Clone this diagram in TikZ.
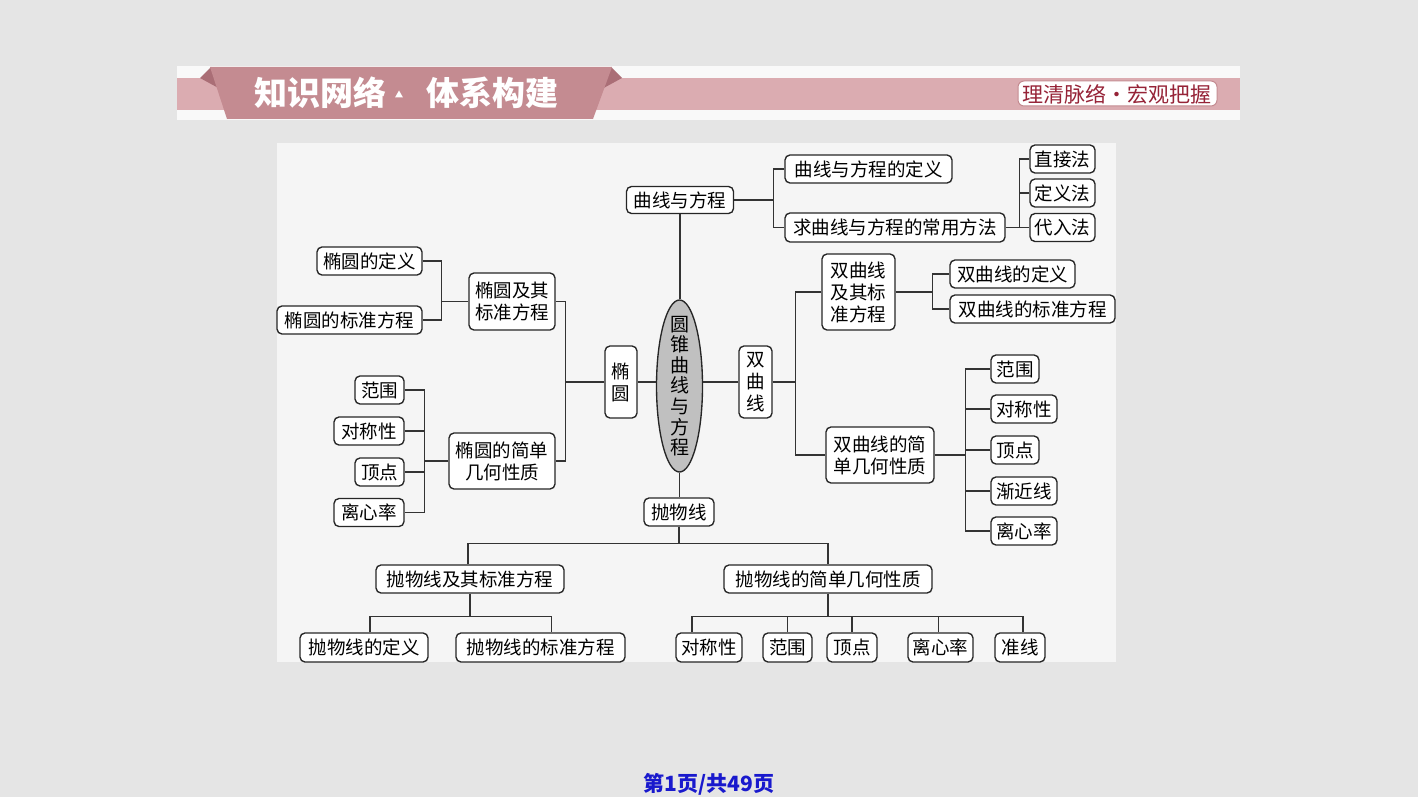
\documentclass[tikz,border=0pt]{standalone}
\usepackage{fontspec}
\newfontfamily\cjk{Noto Sans CJK SC}
\usetikzlibrary{shapes.geometric,calc}
\definecolor{pagebg}{RGB}{229,229,229}
\definecolor{panelbg}{RGB}{245,245,245}
\definecolor{bandwhite}{RGB}{249,249,249}
\definecolor{pinkband}{RGB}{219,172,177}
\definecolor{ribbon}{RGB}{196,139,145}
\definecolor{ribbonfold}{RGB}{170,110,118}
\definecolor{tagred}{RGB}{150,35,55}
\definecolor{ovalgray}{RGB}{192,192,192}
\definecolor{footblue}{RGB}{25,25,205}
\tikzset{
  bx/.style={draw=black!85, line width=1.35pt, rounded corners=5pt, fill=white,
    font=\cjk\fontsize{18.5}{22}\selectfont, inner sep=0pt, align=center},
  ln/.style={draw=black!80, line width=1.35pt},
}
\begin{document}
\begin{tikzpicture}[x=1pt,y=-1pt]
\useasboundingbox (0,0) rectangle (1418,797);
\fill[pagebg] (0,0) rectangle (1418,797);
% header
\fill[bandwhite] (177,66) rectangle (1240,120);
\fill[pinkband] (177,78) rectangle (1240,110);
\fill[ribbonfold] (200,78) -- (211,67) -- (222,90) -- cycle;
\fill[ribbonfold] (622,78) -- (611,67) -- (600,90) -- cycle;
\fill[ribbon] (210,67) -- (612,67) -- (593,119) -- (227,119) -- cycle;
\node[font=\cjk\bfseries\fontsize{33}{36}\selectfont, text=white, inner sep=0pt] (t1h) at (320,93) {知识网络};
\fill[white] (399,90.5) -- (403,97.5) -- (395,97.5) -- cycle;
\node[font=\cjk\bfseries\fontsize{33}{36}\selectfont, text=white, inner sep=0pt] (t2h) at (492,93) {体系构建};
\draw[draw=ribbon, line width=1pt, fill=white, rounded corners=6pt] (1018,81) rectangle (1217,106);
\node[font=\cjk\fontsize{21}{23}\selectfont, text=tagred, inner sep=0pt] (tag) at (1117,94) {理清脉络·宏观把握};
% panel
\fill[panelbg] (277,143) rectangle (1116,662);
% central ellipse
\node[draw=black!85, line width=1.35pt, fill=ovalgray, ellipse, minimum width=46pt, minimum height=172pt,
  inner xsep=0pt, inner ysep=-11pt, align=center, font=\cjk\fontsize{19}{20.6}\selectfont] (c) at (679.5,386)
  {圆\\锥\\曲\\线\\与\\方\\程};
% top branch
\node[bx, minimum width=107pt, minimum height=27pt] (qx) at (680,200) {曲线与方程};
\node[bx, minimum width=167pt, minimum height=28pt] (qd) at (868.5,169) {曲线与方程的定义};
\node[bx, minimum width=220pt, minimum height=29pt] (qf) at (895,227.5) {求曲线与方程的常用方法};
\node[bx, minimum width=65pt, minimum height=28pt] (m1) at (1062.5,159) {直接法};
\node[bx, minimum width=65pt, minimum height=28pt] (m2) at (1062.5,193) {定义法};
\node[bx, minimum width=65pt, minimum height=28pt] (m3) at (1062.5,227.5) {代入法};
% ellipse branch
\node[bx, minimum width=32pt, minimum height=72pt] (ty) at (621,382) {椭\\圆};
\node[bx, minimum width=86pt, minimum height=57pt] (ta) at (512,301.5) {椭圆及其\\标准方程};
\node[bx, minimum width=105pt, minimum height=28pt] (td) at (369.5,261) {椭圆的定义};
\node[bx, minimum width=145pt, minimum height=28pt] (tb) at (349.5,320) {椭圆的标准方程};
\node[bx, minimum width=106pt, minimum height=56pt] (tg) at (502,461) {椭圆的简单\\几何性质};
\node[bx, minimum width=49pt, minimum height=28pt] (ta1) at (379.5,390) {范围};
\node[bx, minimum width=70pt, minimum height=28pt] (ta2) at (369,431) {对称性};
\node[bx, minimum width=49pt, minimum height=28pt] (ta3) at (379.5,472) {顶点};
\node[bx, minimum width=70pt, minimum height=28pt] (ta4) at (369,512.5) {离心率};
% hyperbola branch
\node[bx, minimum width=33pt, minimum height=72pt] (sq) at (755.5,382) {双\\曲\\线};
\node[bx, minimum width=73pt, minimum height=76pt] (sa) at (858.5,292) {双曲线\\及其标\\准方程};
\node[bx, minimum width=125pt, minimum height=28pt] (sd) at (1012.5,274) {双曲线的定义};
\node[bx, minimum width=165pt, minimum height=28pt] (sb) at (1032.5,309) {双曲线的标准方程};
\node[bx, minimum width=108pt, minimum height=56pt] (sg) at (880,455) {双曲线的简\\单几何性质};
\node[bx, minimum width=48pt, minimum height=28pt] (s1) at (1015,369) {范围};
\node[bx, minimum width=66pt, minimum height=28pt] (s2) at (1024,409) {对称性};
\node[bx, minimum width=48pt, minimum height=28pt] (s3) at (1015,450) {顶点};
\node[bx, minimum width=66pt, minimum height=28pt] (s4) at (1024,491) {渐近线};
\node[bx, minimum width=66pt, minimum height=28pt] (s5) at (1024,531) {离心率};
% parabola branch
\node[bx, minimum width=70pt, minimum height=28pt] (pw) at (679,512) {抛物线};
\node[bx, minimum width=188pt, minimum height=28pt] (pa) at (470,579) {抛物线及其标准方程};
\node[bx, minimum width=208pt, minimum height=28pt] (pg) at (828,579) {抛物线的简单几何性质};
\node[bx, minimum width=128pt, minimum height=29pt] (pa1) at (364,647.5) {抛物线的定义};
\node[bx, minimum width=169pt, minimum height=29pt] (pa2) at (540.5,647.5) {抛物线的标准方程};
\node[bx, minimum width=66pt, minimum height=29pt] (pg1) at (709,647.5) {对称性};
\node[bx, minimum width=49pt, minimum height=29pt] (pg2) at (787.5,647.5) {范围};
\node[bx, minimum width=50pt, minimum height=29pt] (pg3) at (852,647.5) {顶点};
\node[bx, minimum width=65pt, minimum height=29pt] (pg4) at (940.5,647.5) {离心率};
\node[bx, minimum width=50pt, minimum height=29pt] (pg5) at (1020,647.5) {准线};
% connectors
\draw[ln] (qx.south) -- (qx.south |- c.north);
\draw[ln] (qx.east) -- ++(39,0) coordinate (j1);
\draw[ln] (qd.west) -| (j1) |- (qf.west);
\draw[ln] (qf.east) -- ++(14,0) coordinate (j2);
\draw[ln] (m1.west) -| (j2) |- (m3.west);
\draw[ln] (m2.west) -- (m2.west -| j2);
\draw[ln] (ty.east) -- (ty.east -| c.west);
\draw[ln] (sq.west) -- (sq.west -| c.east);
\draw[ln] (ty.west) -- ++(-39,0) coordinate (j3);
\draw[ln] (ta.east) -| (j3) |- (tg.east);
\draw[ln] (ta.west) -- ++(-27,0) coordinate (j4);
\draw[ln] (td.east) -| (j4) |- (tb.east);
\draw[ln] (tg.west) -- ++(-24,0) coordinate (j5);
\draw[ln] (ta1.east) -| (j5) |- (ta4.east);
\draw[ln] (ta2.east) -- (ta2.east -| j5);
\draw[ln] (ta3.east) -- (ta3.east -| j5);
\draw[ln] (sq.east) -- ++(23,0) coordinate (j6);
\draw[ln] (sa.west) -| (j6) |- (sg.west);
\draw[ln] (sa.east) -- ++(37,0) coordinate (j7);
\draw[ln] (sd.west) -| (j7) |- (sb.west);
\draw[ln] (sg.east) -- ++(31,0) coordinate (j8);
\draw[ln] (s1.west) -| (j8) |- (s5.west);
\draw[ln] (s2.west) -- (s2.west -| j8);
\draw[ln] (s3.west) -- (s3.west -| j8);
\draw[ln] (s4.west) -- (s4.west -| j8);
\draw[ln] (c.south) -- (c.south |- pw.north);
\draw[ln] (pw.south) -- ++(0,17) coordinate (j9);
\draw[ln] ([xshift=-2pt]pa.north) |- (j9) -| (pg.north);
\draw[ln] (pa.south) -- ++(0,23) coordinate (j10);
\draw[ln] ([xshift=6pt]pa1.north) |- (j10) -| ([xshift=11pt]pa2.north);
\draw[ln] (pg.south) -- ++(0,23) coordinate (j11);
\draw[ln] ([xshift=-17pt]pg1.north) |- (j11) -| ([xshift=3pt]pg5.north);
\draw[ln] (pg2.north) -- (pg2.north |- j11);
\draw[ln] (pg3.north) -- (pg3.north |- j11);
\draw[ln] ([xshift=-2pt]pg4.north) -- ([xshift=-2pt]pg4.north |- j11);
% footer
\node[font=\cjk\bfseries\fontsize{21}{23}\selectfont, text=footblue, inner sep=0pt] (foot) at (709,784) {第1页/共49页};
\end{tikzpicture}
\end{document}
